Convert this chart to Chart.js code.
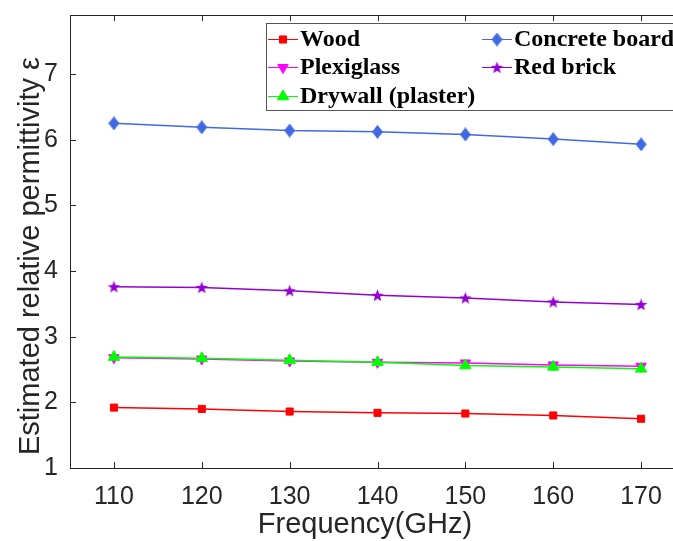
<!DOCTYPE html>
<html>
<head>
<meta charset="utf-8">
<script src="https://cdn.jsdelivr.net/npm/chart.js@4"></script>
<style>
body{margin:0;background:#fff;overflow:hidden;}
#wrap{width:700px;height:541px;}
</style>
</head>
<body>
<div id="wrap"><canvas id="permChart" width="700" height="541"></canvas></div>
<script>

// data
const freq = [110,120,130,140,150,160,170];
const wood = [1.92,1.90,1.86,1.84,1.83,1.80,1.75];
const concrete = [6.25,6.19,6.14,6.12,6.08,6.01,5.93];
const plexiglass = [2.68,2.66,2.63,2.61,2.60,2.57,2.55];
const redBrick = [3.76,3.75,3.70,3.63,3.59,3.53,3.49];
const drywall = [2.69,2.67,2.64,2.61,2.56,2.54,2.51];

const seriesNames = ["Wood","Concrete board","Plexiglass","Red brick","Drywall (plaster)"];
const xTicks = [110,120,130,140,150,160,170];
const yTicks = [1,2,3,4,5,6,7];

const TXT = "#262626";

// marker images for the shapes chart.js doesn't have
function makeMarker(w,h,draw){
  const c=document.createElement("canvas");
  c.width=w;c.height=h;
  draw(c.getContext("2d"),w,h);
  return c;
}
const diamond = makeMarker(11,14,(g,w,h)=>{
  g.fillStyle="#4169E1";
  g.beginPath();
  g.moveTo(w/2,0);g.lineTo(w,h/2);g.lineTo(w/2,h);g.lineTo(0,h/2);g.closePath();
  g.fill();
});
const star = makeMarker(13,13,(g,w,h)=>{
  g.fillStyle="#9400D3";
  g.beginPath();
  const cx=w/2, cy=h/2+0.5, R=6.5, r=2.7;
  for(let i=0;i<10;i++){
    const a=-Math.PI/2+i*Math.PI/5;
    const rr=i%2===0?R:r;
    g.lineTo(cx+rr*Math.cos(a),cy+rr*Math.sin(a));
  }
  g.closePath();
  g.fill();
});

function pts(arr){
  return freq.map((f,i)=>({x:f,y:arr[i]}));
}

const datasets = [
  {label:seriesNames[0],data:pts(wood),borderColor:"#FF0000",backgroundColor:"#FF0000",pointStyle:"rect",pointRadius:5,order:5},
  {label:seriesNames[1],data:pts(concrete),borderColor:"#4169E1",backgroundColor:"#4169E1",pointStyle:diamond,order:4},
  {label:seriesNames[2],data:pts(plexiglass),borderColor:"#FF00FF",backgroundColor:"#FF00FF",pointStyle:"triangle",pointRotation:180,pointRadius:6,order:3},
  {label:seriesNames[3],data:pts(redBrick),borderColor:"#9400D3",backgroundColor:"#9400D3",pointStyle:star,order:2},
  {label:seriesNames[4],data:pts(drywall),borderColor:"#00FF00",backgroundColor:"#00FF00",pointStyle:"triangle",pointRadius:6.5,order:1}
];
datasets.forEach(d=>{d.borderWidth=1.5;d.pointBorderWidth=1;d.fill=false;});

// box, inward ticks, titles and the matlab style legend
const matlabLook = {
  id:"matlabLook",
  afterDraw(chart){
    const ctx=chart.ctx, a=chart.chartArea, xs=chart.scales.x, ys=chart.scales.y;
    ctx.save();
    ctx.strokeStyle=TXT;ctx.lineWidth=1;
    ctx.strokeRect(a.left+0.5,a.top+0.5,a.right-a.left,a.bottom-a.top);
    ctx.beginPath();
    xTicks.forEach(v=>{
      const px=Math.round(xs.getPixelForValue(v))+0.5;
      ctx.moveTo(px,a.bottom);ctx.lineTo(px,a.bottom-6);
      ctx.moveTo(px,a.top);ctx.lineTo(px,a.top+6);
    });
    yTicks.forEach(v=>{
      const py=Math.round(ys.getPixelForValue(v))+0.5;
      ctx.moveTo(a.left,py);ctx.lineTo(a.left+6,py);
      ctx.moveTo(a.right,py);ctx.lineTo(a.right-6,py);
    });
    ctx.stroke();

    // axis titles
    ctx.fillStyle=TXT;
    ctx.font="29px 'Liberation Sans', Arial, sans-serif";
    ctx.textAlign="center";ctx.textBaseline="middle";
    ctx.fillText("Frequency(GHz)",365,525);
    ctx.save();
    ctx.translate(31,256);ctx.rotate(-Math.PI/2);
    ctx.fillText("Estimated relative permittivity ε",0,0);
    ctx.restore();

    // legend
    const lx=266, ly=23, lw=440, lh=87;
    ctx.fillStyle="#fff";
    ctx.fillRect(lx,ly,lw,lh);
    ctx.strokeStyle="#555";
    ctx.strokeRect(lx+0.5,ly+0.5,lw,lh);
    const spots=[[268,39],[482,39],[268,67],[482,67],[268,96]];
    ctx.font="bold 24px 'Liberation Serif', 'Times New Roman', serif";
    ctx.textAlign="left";
    chart.data.datasets.forEach((d,i)=>{
      const [sx,sy]=spots[i];
      ctx.strokeStyle=d.borderColor;ctx.lineWidth=1;
      ctx.beginPath();ctx.moveTo(sx,sy+0.5);ctx.lineTo(sx+30,sy+0.5);ctx.stroke();
      ctx.fillStyle=d.backgroundColor;
      Chart.helpers.drawPoint(ctx,{pointStyle:d.pointStyle,rotation:d.pointRotation||0,radius:d.pointRadius||5,borderWidth:1},sx+15,sy+0.5);
      ctx.fillStyle="#000";
      ctx.fillText(d.label,sx+32,sy+1);
    });
    ctx.restore();
  }
};

new Chart(document.getElementById("permChart"),{
  type:"line",
  data:{datasets:datasets},
  options:{
    responsive:false,
    animation:false,
    layout:{padding:{top:15,right:15,left:0,bottom:0}},
    plugins:{legend:{display:false},tooltip:{enabled:false}},
    elements:{line:{tension:0}},
    scales:{
      x:{
        type:"linear",min:105,max:175,
        afterBuildTicks:s=>{s.ticks=xTicks.map(v=>({value:v}));},
        afterFit:s=>{s.height=73;s.paddingLeft=0;s.paddingRight=0;},
        grid:{display:false,drawTicks:false},
        border:{display:false},
        ticks:{color:TXT,padding:14,font:{family:"'Liberation Sans', Arial, sans-serif",size:25}}
      },
      y:{
        min:1,max:7.9,
        afterBuildTicks:s=>{s.ticks=yTicks.map(v=>({value:v}));},
        afterFit:s=>{s.width=70;s.paddingTop=0;s.paddingBottom=0;},
        grid:{display:false,drawTicks:false},
        border:{display:false},
        ticks:{color:TXT,padding:12,font:{family:"'Liberation Sans', Arial, sans-serif",size:25}}
      }
    }
  },
  plugins:[matlabLook]
});
</script>
</body>
</html>
